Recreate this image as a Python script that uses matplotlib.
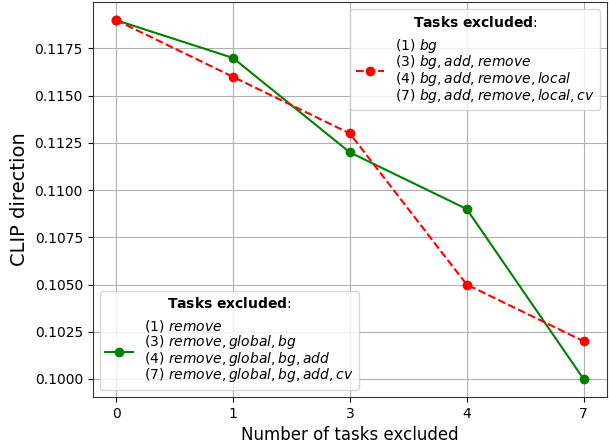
import numpy as np
import matplotlib.pyplot as plt

# values
tick_labels = ["0", "1", "3", "4", "7"]
green_vals = [0.119, 0.117, 0.112, 0.109, 0.100]
red_vals = [0.119, 0.116, 0.113, 0.105, 0.102]

green_label = ("(1) $remove$\n(3) $remove, global, bg$\n"
               "(4) $remove, global, bg, add$\n(7) $remove, global, bg, add, cv$")
red_label = ("(1) $bg$\n(3) $bg, add, remove$\n"
             "(4) $bg, add, remove, local$\n(7) $bg, add, remove, local, cv$")
legend_title = r"$\bf{Tasks\ excluded}$:"

fig = plt.figure(figsize=(6.1, 4.44), dpi=100)
ax = fig.add_axes([0.152, 0.106, 0.843, 0.889])

x = np.arange(len(tick_labels))
g, = ax.plot(x, green_vals, "o-", color="green")
r, = ax.plot(x, red_vals, "o--", color="red")

ax.set_xticks(x)
ax.set_xticklabels(tick_labels)
ax.set_xlabel("Number of tasks excluded", fontsize=12)
ax.set_ylabel("CLIP direction", fontsize=14)
ax.grid(True)
for sp in ax.spines.values():
    sp.set_color("#333333")

leg1 = ax.legend([r], [red_label], title=legend_title, loc="upper right")
ax.add_artist(leg1)
leg2 = ax.legend([g], [green_label], title=legend_title, loc="lower left")
# tighter line spacing, like the reference
for leg in (leg1, leg2):
    for t in leg.get_texts():
        t.set_linespacing(0.9)

fig.savefig("out.png", dpi=100)
